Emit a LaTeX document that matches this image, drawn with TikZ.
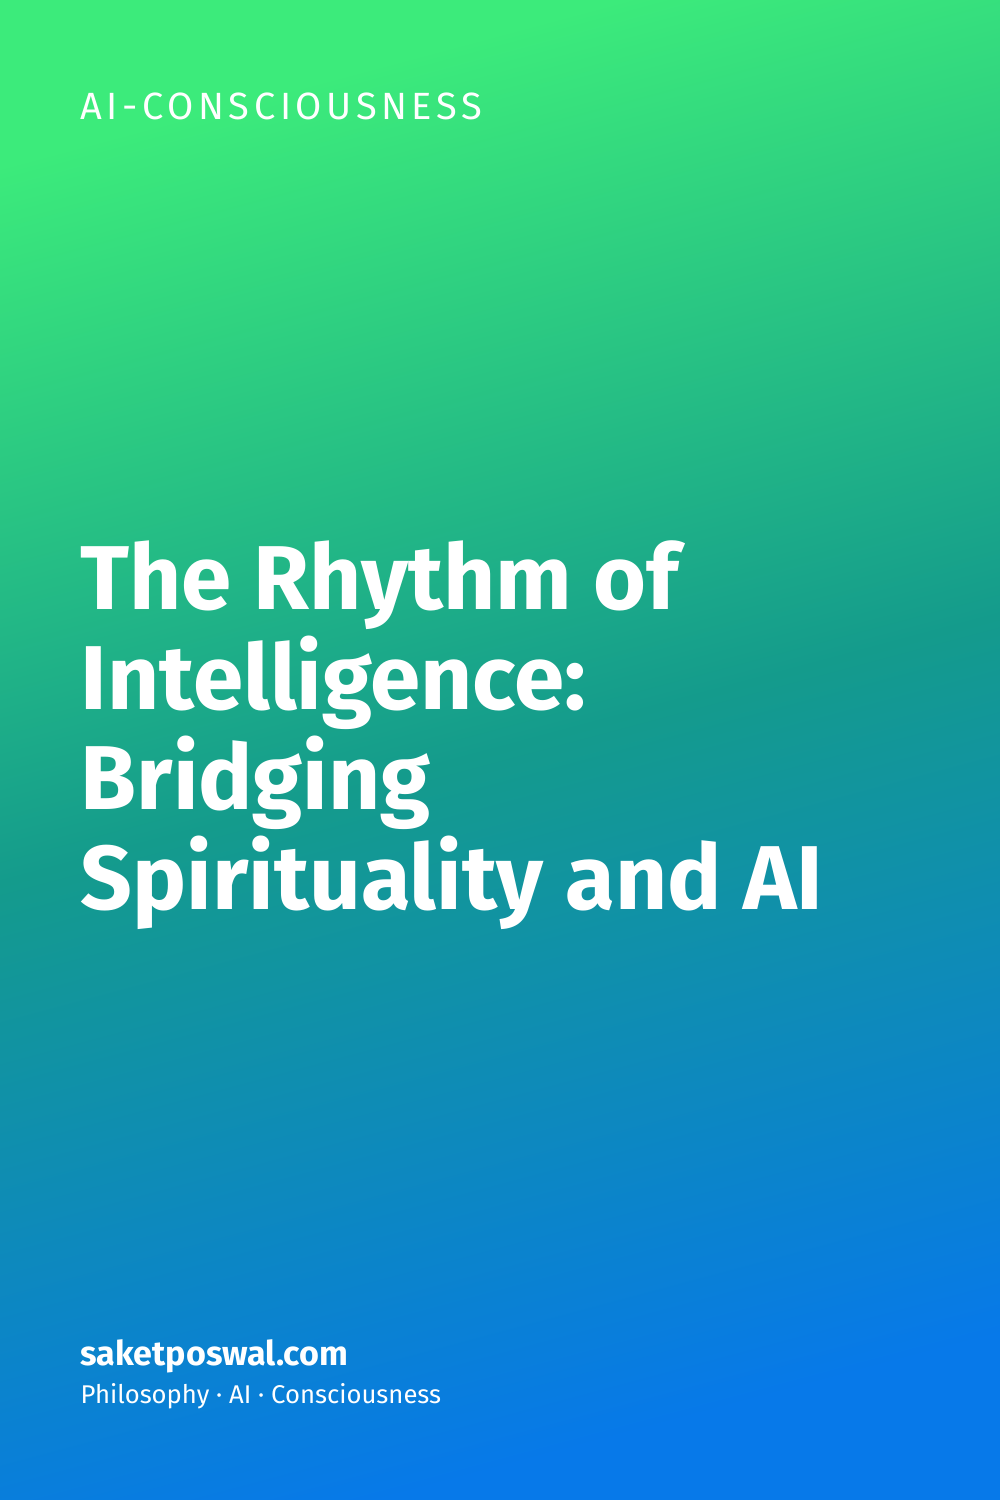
\documentclass[tikz,border=0pt]{standalone}
\usepackage{fontspec}
\setmainfont{Fira Sans}
\newfontfamily\labelfont[LetterSpace=12]{Fira Sans}
\newfontfamily\titlefont{Fira Sans}[UprightFont=* Bold]
\usepackage{tikz}
\definecolor{topgreen}{HTML}{3CEB7B}
\definecolor{midteal}{HTML}{149B8C}
\definecolor{bottomblue}{HTML}{0779E9}
\definecolor{text}{HTML}{FFFFFF}
\begin{document}
\begin{tikzpicture}[
    headline/.style={anchor=base west, inner sep=0pt, color=text, font=\titlefont\fontsize{25.8}{28}\selectfont},
    tagline/.style={anchor=base west, inner sep=0pt, color=text}]
  \useasboundingbox (0,0) rectangle (10,15);
  \shade[top color=topgreen, bottom color=bottomblue, middle color=midteal, shading angle=15] (0,0) rectangle (10,15);
  \node[tagline, font=\labelfont\fontsize{10.8}{12}\selectfont] (topic) at (0.8,13.8) {AI-CONSCIOUSNESS};
  \node[headline] (line1) at (0.8,8.9) {The Rhythm of};
  \node[headline] (line2) at (0.8,7.9) {Intelligence:};
  \node[headline] (line3) at (0.8,6.9) {Bridging};
  \node[headline] (line4) at (0.8,5.9) {Spirituality and AI};
  \node[tagline, font=\bfseries\fontsize{9.7}{11}\selectfont] (site) at (0.8,1.34) {saketposwal.com};
  \node[tagline, font=\fontsize{7.3}{9}\selectfont] (tags) at (0.8,0.97) {Philosophy · AI · Consciousness};
\end{tikzpicture}
\end{document}
